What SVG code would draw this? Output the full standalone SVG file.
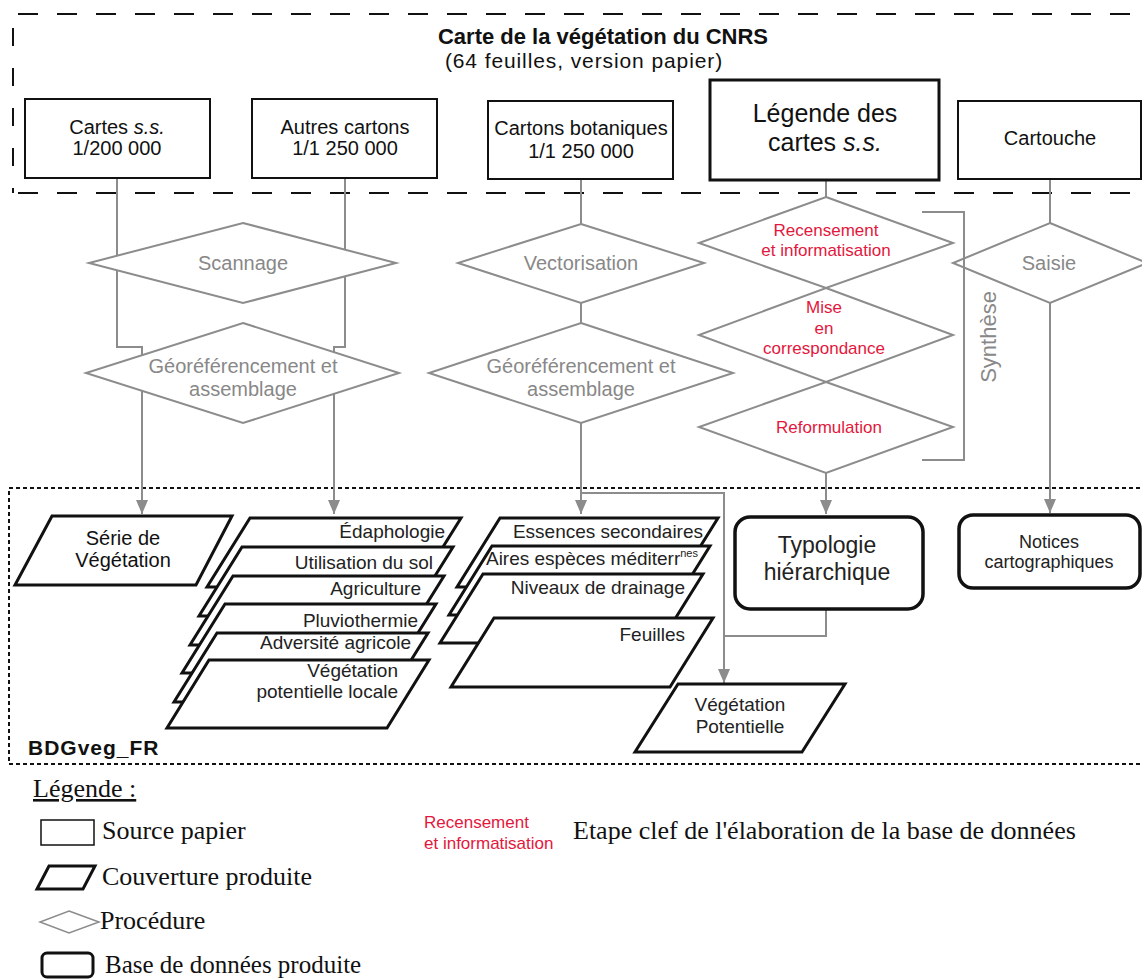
<svg xmlns="http://www.w3.org/2000/svg" width="1142" height="980" viewBox="0 0 1142 980">
<style>
.box{fill:#fff;stroke:#111;stroke-width:2}
.boxb{fill:#fff;stroke:#111;stroke-width:3}
.dia{fill:#fff;stroke:#8c8c8c;stroke-width:2}
.par{fill:#fff;stroke:#111;stroke-width:3;stroke-linejoin:miter}
.db{fill:#fff;stroke:#111;stroke-width:3.5}
.conn{fill:none;stroke:#8c8c8c;stroke-width:2}
.dash{fill:none;stroke:#111;stroke-width:2;stroke-dasharray:20 19}
.dot{fill:none;stroke:#111;stroke-width:2;stroke-dasharray:4 3}
text{font-family:"Liberation Sans",Arial,sans-serif}
.tb{font-size:20px;fill:#111;text-anchor:middle}
.tg{font-size:20px;fill:#888;text-anchor:middle}
.tr{font-size:17px;fill:#e3173d;text-anchor:middle}
.tp{font-size:19px;fill:#222;text-anchor:end}
.tc{font-size:19px;fill:#222;text-anchor:middle}
.serif{font-family:"Liberation Serif","Times New Roman",serif;font-size:26px;fill:#111}
</style>
<defs>
<marker id="arr" markerUnits="userSpaceOnUse" markerWidth="14" markerHeight="12" refX="14" refY="6" orient="auto">
<path d="M0,0 L14,6 L0,12 z" fill="#8c8c8c"/>
</marker>
</defs>
<rect width="1142" height="980" fill="#fff"/>

<g id="frame-top">
<path class="dash" d="M18,14 H1142"/>
<path class="dash" d="M18,193 H1142"/>
<path class="dash" d="M13,28 V193" style="stroke-dasharray:18 22"/>
<text x="603" y="44" style="font-size:22px;font-weight:bold;fill:#111;text-anchor:middle">Carte de la végétation du CNRS</text>
<text x="584" y="68" style="font-size:21px;fill:#111;text-anchor:middle;letter-spacing:0.9px">(64 feuilles, version papier)</text>
</g>

<g id="frame-bottom">
<rect class="dot" x="9" y="488" width="1145" height="276"/>
<text x="28" y="755" style="font-size:21px;font-weight:bold;fill:#111;letter-spacing:1px">BDGveg_FR</text>
</g>

<g id="connectors">
<path class="conn" d="M117,178 V347 H142 V514" marker-end="url(#arr)"/>
<path class="conn" d="M345,178 V347 H334 V514" marker-end="url(#arr)"/>
<path class="conn" d="M581,179 V514" marker-end="url(#arr)"/>
<path class="conn" d="M581,493 H724 V683" marker-end="url(#arr)"/>
<path class="conn" d="M826,609 V636 H724"/>
<path class="conn" d="M826,180 V514" marker-end="url(#arr)"/>
<path class="conn" d="M1050,179 V513" marker-end="url(#arr)"/>
</g>

<g id="cartes-ss">
<rect class="box" x="25" y="99" width="185" height="79"/>
<text class="tb" x="117" y="134">Cartes <tspan font-style="italic">s.s.</tspan></text>
<text class="tb" x="117" y="155">1/200 000</text>
</g>
<g id="autres-cartons">
<rect class="box" x="252" y="99" width="185" height="79"/>
<text class="tb" x="345" y="134">Autres cartons</text>
<text class="tb" x="345" y="155">1/1 250 000</text>
</g>
<g id="cartons-botaniques">
<rect class="box" x="488" y="101" width="185" height="78"/>
<text class="tb" x="581" y="135">Cartons botaniques</text>
<text class="tb" x="581" y="158">1/1 250 000</text>
</g>
<g id="legende-cartes">
<rect class="boxb" x="710" y="80" width="229" height="100"/>
<text x="825" y="122" style="font-size:25px;fill:#111;text-anchor:middle">Légende des</text>
<text x="825" y="151" style="font-size:25px;fill:#111;text-anchor:middle">cartes <tspan font-style="italic">s.s.</tspan></text>
</g>
<g id="cartouche">
<rect class="box" x="958" y="101" width="183" height="78"/>
<text class="tb" x="1050" y="145">Cartouche</text>
</g>

<g id="scannage">
<polygon class="dia" points="243,223 396,263 243,303 89,263"/>
<text class="tg" x="243" y="270">Scannage</text>
</g>
<g id="georef-1">
<polygon class="dia" points="243,323 399,373 243,423 86,373"/>
<text class="tg" x="243" y="373">Géoréférencement et</text>
<text class="tg" x="243" y="396">assemblage</text>
</g>
<g id="vectorisation">
<polygon class="dia" points="581,224 704,263 581,303 458,263"/>
<text class="tg" x="581" y="270">Vectorisation</text>
</g>
<g id="georef-2">
<polygon class="dia" points="581,323 733,373 581,423 429,373"/>
<text class="tg" x="581" y="373">Géoréférencement et</text>
<text class="tg" x="581" y="396">assemblage</text>
</g>
<g id="recensement">
<polygon class="dia" points="826,197 953,243 826,288 699,243"/>
<text class="tr" x="826" y="236">Recensement</text>
<text class="tr" x="826" y="256">et informatisation</text>
</g>
<g id="mise-en-correspondance">
<polygon class="dia" points="826,288 953,335 826,382 699,335"/>
<text class="tr" x="824" y="313">Mise</text>
<text class="tr" x="824" y="334">en</text>
<text class="tr" x="824" y="354">correspondance</text>
</g>
<g id="reformulation">
<polygon class="dia" points="826,382 953,427 826,473 699,427"/>
<text class="tr" x="829" y="433">Reformulation</text>
</g>
<g id="saisie">
<polygon class="dia" points="1050,223 1147,263 1050,303 953,263"/>
<text class="tg" x="1049" y="270">Saisie</text>
</g>
<g id="synthese">
<path class="conn" d="M922,212 H964 V460 H922"/>
<text class="tg" transform="translate(996,337) rotate(-90)" x="0" y="0" style="font-size:22px">Synthèse</text>
</g>

<g id="serie-vegetation">
<polygon class="par" points="52,516 232,516 196,585 15,585"/>
<text class="tb" x="123" y="545">Série de</text>
<text class="tb" x="123" y="567">Végétation</text>
</g>

<g id="stack-1">
<g id="edaphologie"><polygon class="par" points="250,518 461,518 418,587 207,587"/><text class="tp" x="445" y="538">Édaphologie</text></g>
<g id="utilisation-sol"><polygon class="par" points="242,547 453,547 410,616 199,616"/><text class="tp" x="433" y="569">Utilisation du sol</text></g>
<g id="agriculture"><polygon class="par" points="233,576 444,576 401,645 190,645"/><text class="tp" x="421" y="595">Agriculture</text></g>
<g id="pluviothermie"><polygon class="par" points="225,604 436,604 393,673 182,673"/><text class="tp" x="418" y="627">Pluviothermie</text></g>
<g id="adversite"><polygon class="par" points="217,633 428,633 385,702 174,702"/><text class="tp" x="411" y="649">Adversité agricole</text></g>
<g id="vegetation-locale"><polygon class="par" points="209,660 429,660 387,728 167,728"/><text class="tp" x="398" y="677">Végétation</text><text class="tp" x="398" y="698">potentielle locale</text></g>
</g>

<g id="stack-2">
<g id="essences"><polygon class="par" points="500,518 718,518 675,587 457,587"/><text class="tp" x="703" y="538">Essences secondaires</text></g>
<g id="aires"><polygon class="par" points="492,546 710,546 667,615 449,615"/><text class="tp" x="698" y="565">Aires espèces méditerr<tspan font-size="11" dy="-8">nes</tspan></text></g>
<g id="drainage"><polygon class="par" points="483,574 703,574 660,643 440,643"/><text class="tp" x="685" y="594">Niveaux de drainage</text></g>
<g id="feuilles"><polygon class="par" points="494,618 713,618 670,687 451,687"/><text class="tp" x="685" y="641">Feuilles</text></g>
</g>

<g id="vegetation-potentielle">
<polygon class="par" points="678,684 845,684 802,752 635,752"/>
<text class="tc" x="740" y="711">Végétation</text>
<text class="tc" x="740" y="733">Potentielle</text>
</g>

<g id="typologie">
<rect class="db" x="735" y="517" width="188" height="92" rx="15"/>
<text x="827" y="553" style="font-size:23px;fill:#222;text-anchor:middle">Typologie</text>
<text x="827" y="580" style="font-size:23px;fill:#222;text-anchor:middle">hiérarchique</text>
</g>
<g id="notices">
<rect class="db" x="959" y="515" width="181" height="73" rx="14"/>
<text class="tc" x="1049" y="548" style="font-size:18px">Notices</text>
<text class="tc" x="1049" y="568" style="font-size:18px">cartographiques</text>
</g>

<g id="legend">
<text class="serif" x="33" y="797" style="text-decoration:underline">Légende :</text>
<rect x="41" y="820" width="53" height="25" fill="#fff" stroke="#111" stroke-width="1.5"/>
<text class="serif" x="102" y="839">Source papier</text>
<polygon points="49,866 95,866 83,889 37,889" fill="#fff" stroke="#111" stroke-width="3"/>
<text class="serif" x="102" y="885">Couverture produite</text>
<polygon points="69,911 99,922 69,933 40,922" fill="#fff" stroke="#8c8c8c" stroke-width="1.5"/>
<text class="serif" x="100" y="929">Procédure</text>
<rect x="42" y="953" width="51" height="24" rx="5" fill="#fff" stroke="#111" stroke-width="3"/>
<text class="serif" x="105" y="973" style="font-size:25px">Base de données produite</text>
<text x="424" y="828" style="font-size:17px;fill:#e3173d">Recensement</text>
<text x="424" y="849" style="font-size:17px;fill:#e3173d">et informatisation</text>
<text class="serif" x="573" y="839">Etape clef de l'élaboration de la base de données</text>
</g>
</svg>
